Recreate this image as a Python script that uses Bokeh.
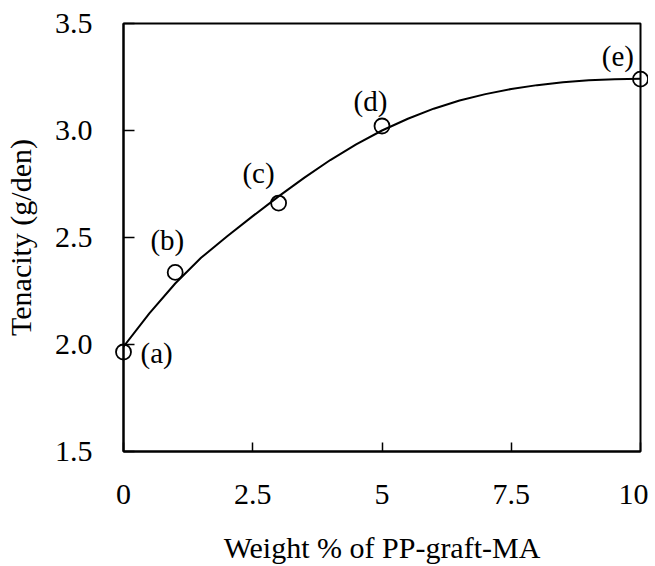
from bokeh.plotting import figure
from bokeh.models import Range1d, FixedTicker, ColumnDataSource
from bokeh.core.properties import value
from bokeh.embed import file_html
from bokeh.resources import INLINE

# measured samples
sample_x = [0, 1, 3, 5, 10]
tenacity = [1.965, 2.337, 2.661, 3.021, 3.24]
sample_labels = ["(a)", "(b)", "(c)", "(d)", "(e)"]
label_x = [0.33, 0.52, 2.30, 4.45, 9.25]
label_y = [1.96, 2.49, 2.80, 3.14, 3.35]

# fitted curve
curve_x = [0, 0.5, 1, 1.5, 2, 2.5, 3, 3.5, 4, 4.5, 5, 5.5, 6, 6.5, 7, 7.5, 8, 8.5, 9, 9.5, 10]
curve_y = [1.99, 2.145, 2.285, 2.405, 2.505, 2.600, 2.692, 2.780, 2.862, 2.935, 3.000,
           3.055, 3.102, 3.140, 3.170, 3.194, 3.212, 3.226, 3.235, 3.240, 3.242]

x_ticks = [0, 2.5, 5, 7.5, 10]
x_tick_labels = ["0", "2.5", "5", "7.5", "10"]
y_ticks = [1.5, 2.0, 2.5, 3.0, 3.5]
y_tick_labels = ["1.5", "2.0", "2.5", "3.0", "3.5"]

FONT = "Liberation Serif"

p = figure(width=648, height=566, output_backend="svg", toolbar_location=None,
           x_range=Range1d(0, 10), y_range=Range1d(1.5, 3.5))
p.min_border_left = 121
p.min_border_right = 8
p.min_border_top = 23
p.min_border_bottom = 113
p.background_fill_color = "white"
p.border_fill_color = "white"
p.outline_line_color = "black"
p.outline_line_width = 2
p.xgrid.visible = False
p.ygrid.visible = False

p.xaxis.ticker = FixedTicker(ticks=x_ticks)
p.xaxis.major_label_overrides = dict(zip(x_ticks, x_tick_labels))
p.yaxis.ticker = FixedTicker(ticks=y_ticks)
p.yaxis.major_label_overrides = dict(zip(y_ticks, y_tick_labels))

for ax in (p.xaxis[0], p.yaxis[0]):
    ax.axis_line_color = "black"
    ax.axis_line_width = 2
    ax.major_tick_line_color = "black"
    ax.major_tick_line_width = 1.5
    ax.major_tick_out = 0
    ax.minor_tick_line_color = None
    ax.major_label_text_font = FONT
    ax.major_label_text_font_size = "30px"
    ax.major_label_text_color = "black"
    ax.axis_label_text_font = FONT
    ax.axis_label_text_font_size = "30px"
    ax.axis_label_text_font_style = "normal"
    ax.axis_label_text_color = "black"

p.xaxis.major_tick_in = 9
p.yaxis.major_tick_in = 11
p.xaxis.major_label_standoff = 33
p.yaxis.major_label_standoff = 31
p.xaxis.axis_label = "Weight % of PP-graft-MA"
p.yaxis.axis_label = "Tenacity (g/den)"
p.xaxis.axis_label_standoff = 24
p.yaxis.axis_label_standoff = 15

p.line(curve_x, curve_y, line_color="black", line_width=2)
pts = p.scatter(sample_x, tenacity, marker="circle", size=15, fill_color=None,
                line_color="black", line_width=1.8)
pts.level = "overlay"

src = ColumnDataSource(dict(x=label_x, y=label_y, t=sample_labels))
p.text(x="x", y="y", text="t", source=src, text_font=value(FONT), text_font_size="29px",
       text_color="black", text_align="left", text_baseline="middle")

open("out.html", "w").write(file_html(p, INLINE))
